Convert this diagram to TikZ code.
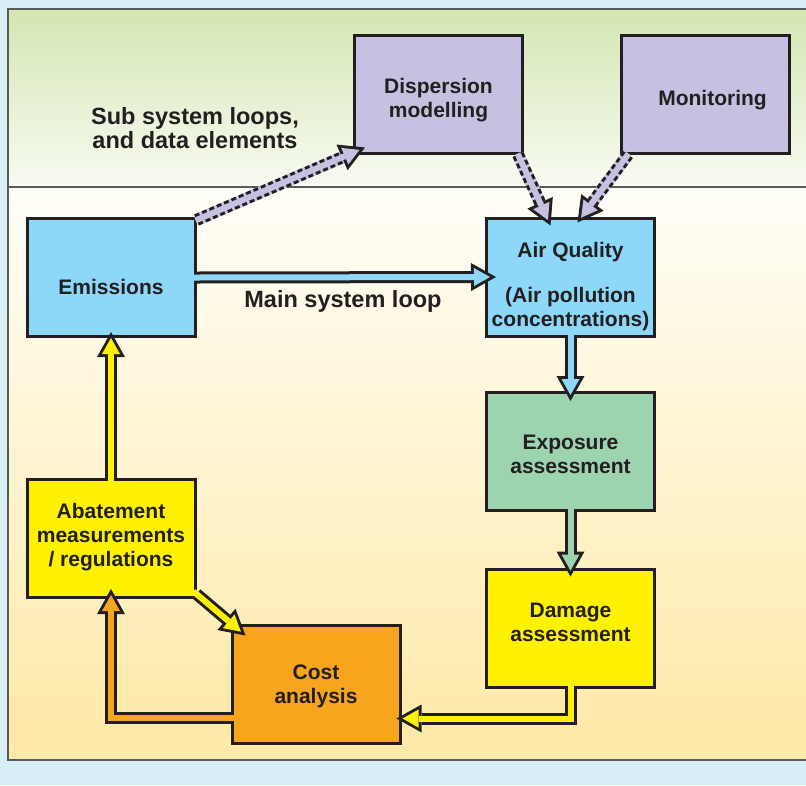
\documentclass[tikz,border=0pt]{standalone}
\usepackage{fontspec}
\setmainfont{Liberation Sans}
\usetikzlibrary{arrows.meta}

\definecolor{outerbg}{HTML}{D8EFF7}
\definecolor{greentop}{HTML}{D3E6B2}
\definecolor{greenbot}{HTML}{F8FBF2}
\definecolor{creamtop}{HTML}{FFFEF8}
\definecolor{creambot}{HTML}{FFE9A6}
\definecolor{framegray}{HTML}{5A5A5A}
\definecolor{ink}{HTML}{231F20}
\definecolor{lav}{HTML}{C6C1E0}
\definecolor{skyb}{HTML}{8DD8F8}
\definecolor{mint}{HTML}{9DD3AF}
\definecolor{yel}{HTML}{FFF200}
\definecolor{orng}{HTML}{F7A51C}

\begin{document}
\begin{tikzpicture}[x=1pt, y=-1pt,
    box/.style={draw=ink, line width=3pt, minimum width=168pt, minimum height=118pt},
    boxtext/.style={align=center, text=ink, font=\bfseries\fontsize{21}{24}\selectfont},
    note/.style={align=center, text=ink, font=\bfseries\fontsize{23.5}{24}\selectfont},
    fatarrow/.style={draw=ink, line width=12pt, line join=miter,
        -{Triangle[length=25pt, width=28pt, line width=0pt]},
        postaction={draw=#1, solid, line width=6pt, line join=miter,
            shorten >=6pt, shorten <=-4pt,
            -{Triangle[length=16pt, width=18pt, line width=0pt]}}},
    dasharrow/.style={draw=ink, line width=12pt, dash pattern=on 5pt off 3pt,
        -{Triangle[length=25pt, width=28pt, line width=0pt]},
        preaction={draw=lav, solid, line width=12pt, arrows=-, shorten >=24pt},
        postaction={draw=lav, solid, line width=6pt, shorten >=6pt, shorten <=-1pt,
            -{Triangle[length=16pt, width=18pt, line width=0pt]}}}]

    \useasboundingbox (0,0) rectangle (806,785);

    % background panel
    \fill[outerbg] (0,0) rectangle (806,785);
    \shade[top color=greentop, bottom color=greenbot] (8,9) rectangle (806,187);
    \shade[top color=creamtop, bottom color=creambot] (8,187) rectangle (806,760);
    \draw[framegray, line width=1.2pt] (806,9) -- (8,9) -- (8,760) -- (806,760);
    \draw[framegray, line width=1.2pt] (8,187) -- (806,187);

    % boxes
    \node[box, fill=lav, label={[boxtext, yshift=-6.5pt]center:{Dispersion\\modelling}}] (disp) at (438.5,94) {};
    \node[box, fill=lav, label={[boxtext, shift={(7pt,-6pt)}]center:Monitoring}] (monit) at (705.5,94) {};
    \node[box, fill=skyb, label={[boxtext, yshift=-9pt]center:Emissions}] (emis) at (111,277.5) {};
    \node[box, fill=skyb, label={[boxtext, yshift=-10pt]center:{Air Quality\\[21pt](Air pollution\\concentrations)}}] (airq) at (570.5,277) {};
    \node[box, fill=mint, label={[boxtext, yshift=-3pt]center:{Exposure\\assessment}}] (expo) at (570.5,451.5) {};
    \node[box, fill=yel, label={[boxtext, yshift=6pt]center:{Damage\\assessment}}] (dama) at (570.5,628) {};
    \node[box, fill=orng, label={[boxtext, yshift=-2pt]center:{Cost\\analysis}}] (cost) at (316,684.5) {};
    \node[box, fill=yel, label={[boxtext, yshift=1pt]center:{Abatement\\measurements\\/ regulations}}] (abat) at (111,538.5) {};

    % labels
    \node[note] (subloop) at (195,128) {Sub system loops,\\and data elements};
    \node[note] (mainloop) at (343,301) {Main system loop};

    % sub system loops
    \draw[dasharrow] ([yshift=-3pt]emis.north east) -- ([shift={(12pt,7pt)}]disp.south west);
    \draw[dasharrow] ([xshift=-6pt]disp.south east) -- ([shift={(-20pt,-9pt)}]airq.north);
    \draw[dasharrow] ([xshift=8pt]monit.south west) -- ([shift={(7pt,-6pt)}]airq.north);

    % main system loop
    \draw[fatarrow=skyb] (emis.east) -- ([xshift=11pt]airq.west);
    \draw[fatarrow=skyb] (airq.south) -- ([yshift=-10pt]expo.north);
    \draw[fatarrow=mint] (expo.south) -- ([yshift=-9pt]dama.north);
    \draw[fatarrow=yel] (dama.south) |- ([shift={(-5pt,-34pt)}]cost.east);
    \draw[fatarrow=yel] ([yshift=5pt]abat.south east) -- ([shift={(15pt,-11.5pt)}]cost.north west);
    \draw[fatarrow=orng] ([yshift=-33pt]cost.west) -| ([yshift=10pt]abat.south);
    \draw[fatarrow=yel] (abat.north) -- ([yshift=6pt]emis.south);
\end{tikzpicture}
\end{document}
